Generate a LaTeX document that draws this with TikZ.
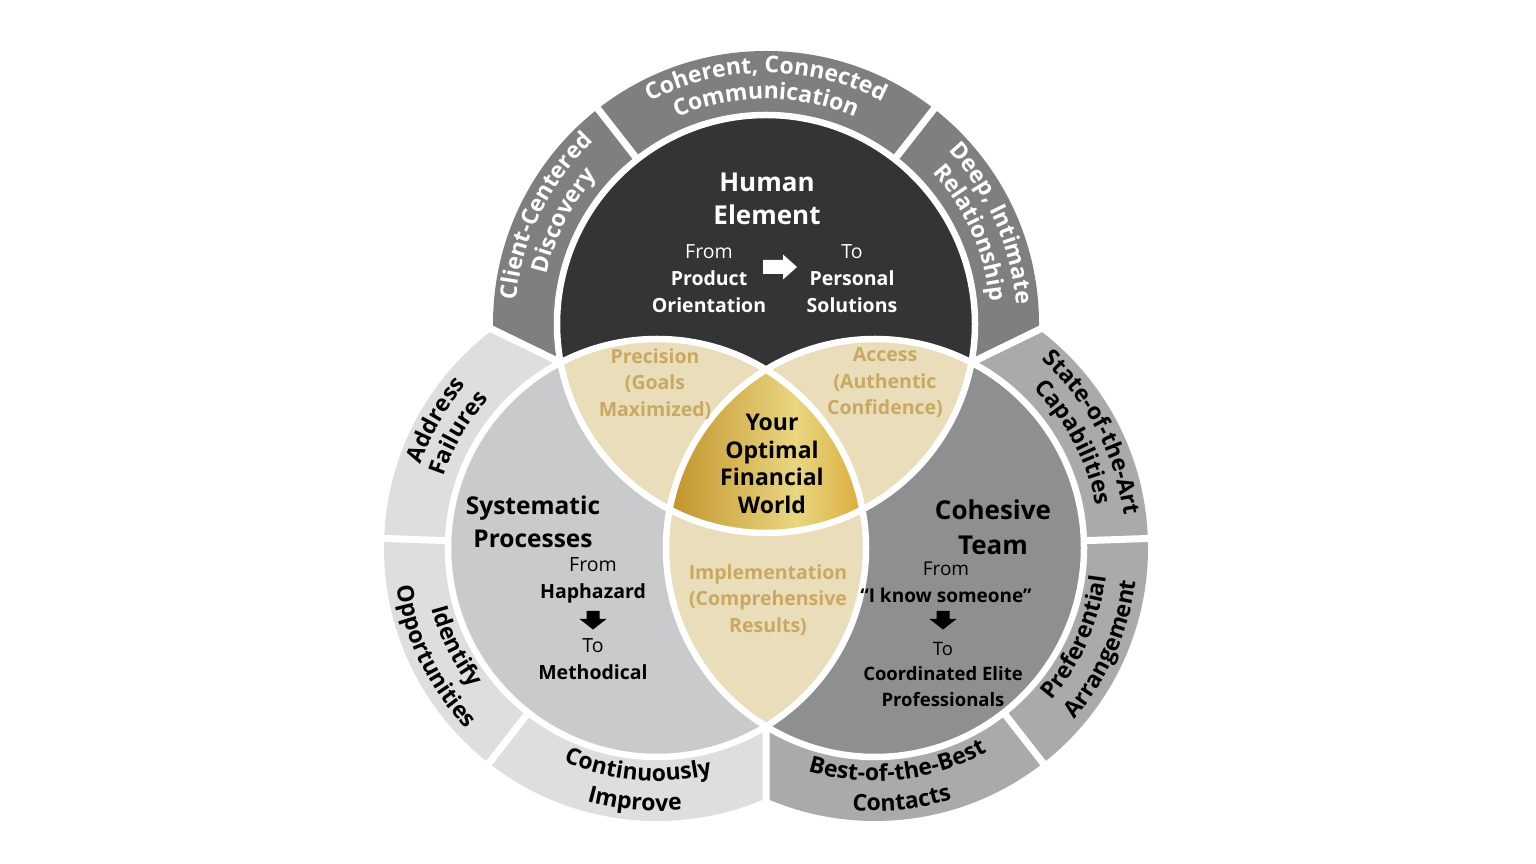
\documentclass[tikz,border=0pt]{standalone}
\usepackage{fontspec}
\setmainfont{Open Sans}
\usepackage{xcolor}
\usetikzlibrary{decorations.text}
\definecolor{darkc}{HTML}{343434}
\definecolor{topring}{HTML}{7F7F81}
\definecolor{leftc}{HTML}{C9CACC}
\definecolor{leftring}{HTML}{DEDEDE}
\definecolor{rightc}{HTML}{8E8F91}
\definecolor{rightring}{HTML}{AAAAAB}
\definecolor{lensfill}{HTML}{EADDBA}
\definecolor{lensgold}{HTML}{C9A961}
\definecolor{goldA}{HTML}{C3952C}
\definecolor{goldB}{HTML}{E9D681}
\definecolor{goldC}{HTML}{DBAA38}
\pgfdeclarehorizontalshading{goldshade}{100bp}{color(0bp)=(goldA); color(25bp)=(goldA); color(57bp)=(goldB); color(75bp)=(goldC); color(100bp)=(goldC)}
\newcommand\ringfont{\bfseries\fontsize{23}{23}\selectfont}
\tikzset{
	gapline/.style={white, line width=7},
	rimline/.style={draw=white, line width=6.5},
	cwtext/.style 2 args={decorate, decoration={text along path, text align=center, text color=#1, text={|\ringfont|#2}}},
	headtext/.style={font=\bfseries\fontsize{26}{33}\selectfont, align=center},
	subtext/.style={font=\fontsize{19.5}{27}\selectfont, align=center},
	lenstext/.style={font=\bfseries\fontsize{19.5}{26.5}\selectfont, text=lensgold, align=center},
	downarr/.pic={\fill (-6.5,9) -- (6.5,9) -- (6.5,1) -- (13.5,1) -- (0,-9.5) -- (-13.5,1) -- (-6.5,1) -- cycle;},
	rightarr/.pic={\fill (-17,-7) -- (3,-7) -- (3,-12.5) -- (17,0) -- (3,12.5) -- (3,7) -- (-17,7) -- cycle;}
}

\begin{document}
\begin{tikzpicture}[x=1pt, y=1pt]
	\fill[white] (0,0) rectangle (1536,864);
	\useasboundingbox (0,0) rectangle (1536,864);
	\coordinate (T) at (766,540);
	\coordinate (L) at (657,316);
	\coordinate (R) at (875,316);
	\coordinate (C) at (766,401.5);

	% outer rings
	\begin{scope}
		\clip (C) -- ++(154.05:1200) -- (-400,1400) -- (1936,1400) -- ([shift={(25.95:1200)}]C) -- cycle;
		\fill[topring, even odd rule] (T) circle[radius=273] (T) circle[radius=211];
	\end{scope}
	\begin{scope}
		\clip (C) -- ++(154.05:1200) -- (-400,-400) -- (766,-400) -- cycle;
		\fill[leftring, even odd rule] (L) circle[radius=273] (L) circle[radius=211];
	\end{scope}
	\begin{scope}
		\clip (C) -- ([shift={(25.95:1200)}]C) -- (1936,-400) -- (766,-400) -- cycle;
		\fill[rightring, even odd rule] (R) circle[radius=273] (R) circle[radius=211];
	\end{scope}
	\foreach \a in {52,128} \draw[gapline] ([shift={(\a:200)}]T) -- ([shift={(\a:290)}]T);
	\foreach \a in {178,232} \draw[gapline] ([shift={(\a:200)}]L) -- ([shift={(\a:290)}]L);
	\foreach \a in {2,-52} \draw[gapline] ([shift={(\a:200)}]R) -- ([shift={(\a:290)}]R);
	\draw[gapline] (C) -- ++(154.05:420) (C) -- ++(25.95:420) (C) -- ++(270:460);

	% circles
	\fill[leftc] (L) circle[radius=209];
	\fill[rightc] (R) circle[radius=209];
	\fill[darkc] (T) circle[radius=209];
	\begin{scope}
		\clip (T) circle[radius=209];
		\fill[lensfill] (L) circle[radius=209];
		\fill[lensfill] (R) circle[radius=209];
	\end{scope}
	\begin{scope}
		\clip (L) circle[radius=209];
		\fill[lensfill] (R) circle[radius=209];
		\clip (R) circle[radius=209];
		\clip (T) circle[radius=209];
		\shade[shading=goldshade] (672,325) rectangle (866,500);
	\end{scope}
	\foreach \c in {T,L,R} \draw[rimline] (\c) circle[radius=209];

	% ring labels
	\path[cwtext={white}{Coherent, Connected}] ([shift={(130:251)}]T) arc[start angle=130, end angle=50, radius=251];
	\path[cwtext={white}{Communication}] ([shift={(130:225)}]T) arc[start angle=130, end angle=50, radius=225];
	\path[cwtext={white}{Client-Centered}] ([shift={(194:251)}]T) arc[start angle=194, end angle=114, radius=251];
	\path[cwtext={white}{Discovery}] ([shift={(193:225)}]T) arc[start angle=193, end angle=113, radius=225];
	\path[cwtext={white}{Deep, Intimate}] ([shift={(64:251)}]T) arc[start angle=64, end angle=-16, radius=251];
	\path[cwtext={white}{Relationship}] ([shift={(64:225)}]T) arc[start angle=64, end angle=-16, radius=225];
	\path[cwtext={black}{Address}] ([shift={(190:251)}]L) arc[start angle=190, end angle=110, radius=251];
	\path[cwtext={black}{Failures}] ([shift={(190:225)}]L) arc[start angle=190, end angle=110, radius=225];
	\path[cwtext={black}{Identify}] ([shift={(166:233)}]L) arc[start angle=166, end angle=246, radius=233];
	\path[cwtext={black}{Opportunities}] ([shift={(166:263)}]L) arc[start angle=166, end angle=246, radius=263];
	\path[cwtext={black}{Continuously}] ([shift={(225:233)}]L) arc[start angle=225, end angle=305, radius=233];
	\path[cwtext={black}{Improve}] ([shift={(225:263)}]L) arc[start angle=225, end angle=305, radius=263];
	\path[cwtext={black}{State-of-the-Art}] ([shift={(68:251)}]R) arc[start angle=68, end angle=-12, radius=251];
	\path[cwtext={black}{Capabilities}] ([shift={(68:225)}]R) arc[start angle=68, end angle=-12, radius=225];
	\path[cwtext={black}{Preferential}] ([shift={(-64:233)}]R) arc[start angle=-64, end angle=16, radius=233];
	\path[cwtext={black}{Arrangement}] ([shift={(-64:263)}]R) arc[start angle=-64, end angle=16, radius=263];
	\path[cwtext={black}{Best-of-the-Best}] ([shift={(236:233)}]R) arc[start angle=236, end angle=316, radius=233];
	\path[cwtext={black}{Contacts}] ([shift={(236:263)}]R) arc[start angle=236, end angle=316, radius=263];

	% circle texts
	\node[headtext, text=white] (human) at (767,665) {Human\\Element};
	\node[subtext, text=white] (fromT) at (709,585) {From\\\textbf{Product}\\\textbf{Orientation}};
	\pic[white] at (780,597) {rightarr};
	\node[subtext, text=white] (toT) at (852,585) {To\\\textbf{Personal}\\\textbf{Solutions}};
	\node[lenstext] (prec) at (655,480) {Precision\\(Goals\\Maximized)};
	\node[lenstext] (acc) at (885,481) {Access\\(Authentic\\Confidence)};
	\node[lenstext] (impl) at (768,264) {Implementation\\(Comprehensive\\Results)};
	\node[font=\bfseries\fontsize{23}{27.5}\selectfont, align=center] (world) at (772,400) {Your\\Optimal\\Financial\\World};
	\node[headtext, font=\bfseries\fontsize{24.5}{33}\selectfont] (sys) at (533,342) {Systematic\\Processes};
	\node[subtext] (fromL) at (593,284) {From\\\textbf{Haphazard}};
	\pic[black] at (593,244) {downarr};
	\node[subtext] (toL) at (593,205) {To\\\textbf{Methodical}};
	\node[headtext, font=\bfseries\fontsize{26}{35}\selectfont] (coh) at (993,337) {Cohesive\\Team};
	\node[subtext, font=\fontsize{19}{27}\selectfont] (fromR) at (946,282) {From\\\textbf{“I know someone”}};
	\pic[black] at (943,244) {downarr};
	\node[subtext, font=\fontsize{18.5}{25.5}\selectfont] (toR) at (943,190) {To\\\textbf{Coordinated Elite}\\\textbf{Professionals}};
\end{tikzpicture}
\end{document}
